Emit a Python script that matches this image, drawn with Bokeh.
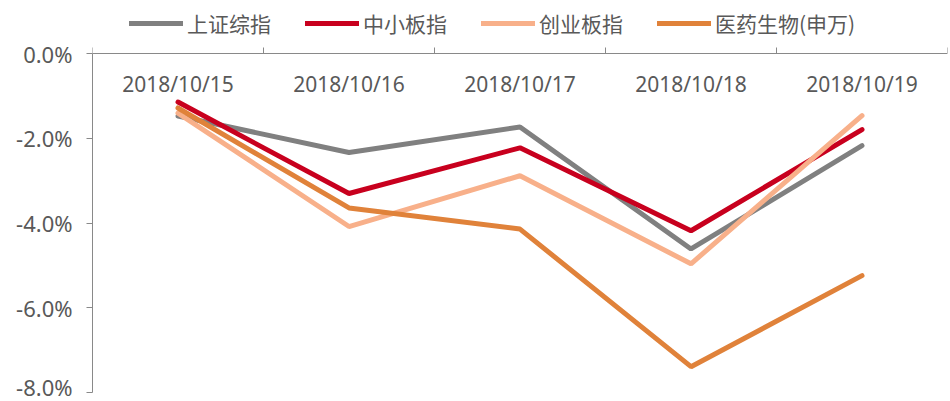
from bokeh.plotting import figure
from bokeh.models import (LinearAxis, FixedTicker, Legend, LegendItem, Range1d,
                          PrintfTickFormatter, CustomJSTickFormatter)
from bokeh.core.properties import value
from bokeh.embed import file_html
from bokeh.resources import INLINE

dates = ["2018/10/15", "2018/10/16", "2018/10/17", "2018/10/18", "2018/10/19"]
names = ["上证综指", "中小板指", "创业板指", "医药生物(申万)"]
sz = [-1.47, -2.33, -1.73, -4.61, -2.17]
zxb = [-1.14, -3.30, -2.22, -4.18, -1.79]
cyb = [-1.40, -4.08, -2.88, -4.96, -1.46]
yy = [-1.28, -3.64, -4.14, -7.39, -5.24]
y_ticks = [0, -2, -4, -6, -8]

colors = ["#808080", "#C8001E", "#F8B08A", "#E0823A"]
series = [sz, zxb, cyb, yy]
xs = [i + 0.5 for i in range(len(dates))]

TEXT = "#595959"
FONT = "Noto Sans"

p = figure(width=950, height=401, output_backend="svg", toolbar_location=None,
           x_range=Range1d(0, len(dates)), y_range=Range1d(-8, 1.259),
           x_axis_location=None, min_border_left=92, min_border_right=3,
           min_border_bottom=9, min_border_top=0)
p.outline_line_color = None
p.xgrid.visible = False
p.ygrid.visible = False

ya = p.yaxis[0]
ya.ticker = FixedTicker(ticks=y_ticks)
ya.formatter = PrintfTickFormatter(format="%.1f%%")
ya.bounds = (-8, 0)
ya.major_tick_in = 0
ya.major_tick_out = 6
ya.minor_tick_line_color = None
ya.axis_line_color = "#898989"
ya.major_tick_line_color = "#898989"
ya.major_label_text_font = FONT
ya.major_label_text_font_size = "22px"
ya.major_label_text_color = TEXT
ya.major_label_standoff = 14

xa = LinearAxis(ticker=FixedTicker(ticks=list(range(len(dates) + 1))),
                formatter=CustomJSTickFormatter(code="return ''"),
                fixed_location=0)
xa.major_tick_in = 6
xa.major_tick_out = 0
xa.minor_tick_line_color = None
xa.axis_line_color = "#898989"
xa.major_tick_line_color = "#898989"
xa.major_label_standoff = 0
xa.major_label_text_font_size = "1px"
p.add_layout(xa, "below")

p.text(x=xs, y=[0] * len(dates), text=dates, y_offset=30,
       text_align="center", text_baseline="middle",
       text_font=value(FONT), text_font_size="21px", text_color=TEXT)

items = []
for name, vals, c in zip(names, series, colors):
    r = p.line(xs, vals, line_color=c, line_width=5, line_cap="round")
    items.append(LegendItem(label=name, renderers=[r]))

legend = Legend(items=items, orientation="horizontal", glyph_width=54,
                glyph_height=20, label_standoff=4, spacing=34, padding=0,
                margin=0, border_line_color=None, background_fill_alpha=0,
                label_text_font="Noto Sans CJK SC",
                label_text_font_size="21px", label_text_color=TEXT,
                location=(37, 354))
p.add_layout(legend, "center")

open("out.html", "w").write(file_html(p, INLINE))
